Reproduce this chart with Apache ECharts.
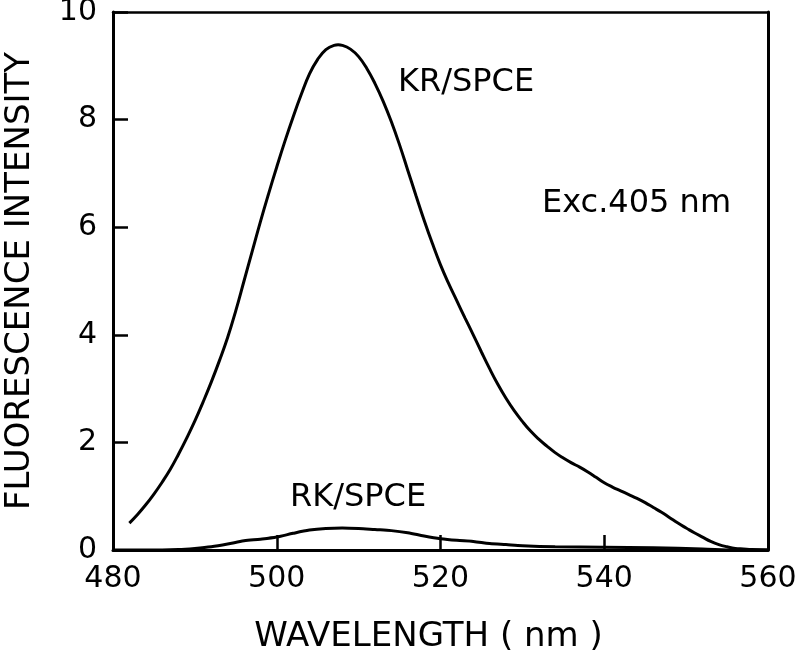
<!DOCTYPE html>
<html>
<head>
<meta charset="utf-8">
<script src="https://cdn.jsdelivr.net/npm/echarts@6/dist/echarts.min.js"></script>
<style>
html,body{margin:0;padding:0;background:#fff;}
#chart{width:800px;height:659px;}
</style>
</head>
<body>
<div id="chart"></div>
<script>
var xTicks = [480, 500, 520, 540, 560];
var yTicks = [0, 2, 4, 6, 8, 10];

var krWavelength = [482, 483, 484, 485, 486, 487, 488, 489, 490, 491, 492, 493, 494, 495, 496, 497, 498, 499, 500, 501, 502, 503, 504, 505, 506, 507, 507.5, 508, 509, 510, 511, 512, 513, 514, 515, 516, 517, 518, 519, 520, 521, 522, 523, 524, 525, 526, 527, 528, 529, 530, 531, 532, 533, 534, 535, 536, 537, 538, 539, 540, 541, 542, 543, 544, 545, 546, 547, 548, 549, 550, 551, 552, 553, 554, 555, 556, 557, 558, 560];
var krIntensity  = [0.5, 0.66, 0.84, 1.04, 1.26, 1.5, 1.78, 2.08, 2.4, 2.75, 3.12, 3.52, 3.95, 4.45, 5.0, 5.55, 6.1, 6.62, 7.12, 7.6, 8.05, 8.47, 8.85, 9.12, 9.3, 9.38, 9.39, 9.38, 9.31, 9.17, 8.95, 8.67, 8.34, 7.96, 7.53, 7.06, 6.59, 6.13, 5.7, 5.3, 4.95, 4.63, 4.31, 4.0, 3.68, 3.37, 3.08, 2.82, 2.59, 2.39, 2.21, 2.06, 1.93, 1.81, 1.71, 1.62, 1.54, 1.45, 1.35, 1.25, 1.17, 1.1, 1.03, 0.96, 0.88, 0.79, 0.7, 0.6, 0.5, 0.41, 0.32, 0.24, 0.16, 0.1, 0.06, 0.03, 0.02, 0.01, 0];

var rkWavelength = [480, 484, 488, 490, 492, 494, 496, 498, 500, 502, 504, 506, 508, 510, 512, 514, 516, 518, 520, 522, 524, 526, 528, 530, 534, 540, 546, 552, 556, 560];
var rkIntensity  = [0, 0, 0.01, 0.03, 0.06, 0.11, 0.17, 0.2, 0.24, 0.31, 0.37, 0.4, 0.41, 0.4, 0.38, 0.36, 0.32, 0.26, 0.21, 0.18, 0.16, 0.12, 0.1, 0.08, 0.06, 0.05, 0.04, 0.02, 0, 0];

var seriesNames = ['KR/SPCE', 'RK/SPCE'];
var xTitle = 'WAVELENGTH ( nm )';
var yTitle = 'FLUORESCENCE INTENSITY';
var noteText = 'Exc.405 nm';

function pairs(xs, ys) { return xs.map(function (x, i) { return [x, ys[i]]; }); }

var font = 'DejaVu Sans';
var chart = echarts.init(document.getElementById('chart'));
chart.setOption({
  animation: false,
  backgroundColor: '#fff',
  grid: { left: 113, right: 32, top: 12, bottom: 109, outerBoundsMode: 'none', containLabel: false },
  xAxis: [{
    type: 'value', min: xTicks[0], max: xTicks[xTicks.length - 1], interval: 20,
    name: xTitle, nameLocation: 'middle', nameGap: 70,
    nameTextStyle: { fontFamily: font, fontSize: 34, color: '#000', padding: [0, 24, 0, 0] },
    axisLine: { show: true, lineStyle: { color: '#000', width: 3 } },
    axisTick: { show: true, inside: true, length: 15, lineStyle: { color: '#000', width: 2.5 } },
    axisLabel: { fontFamily: font, fontSize: 30, color: '#000', margin: 14 },
    splitLine: { show: false }
  }, {
    type: 'value', position: 'top', min: xTicks[0], max: xTicks[xTicks.length - 1],
    axisLine: { show: true, onZero: false, lineStyle: { color: '#000', width: 2.5 } },
    axisTick: { show: false }, axisLabel: { show: false }, splitLine: { show: false }
  }],
  yAxis: [{
    type: 'value', min: yTicks[0], max: yTicks[yTicks.length - 1], interval: 2,
    name: yTitle, nameLocation: 'middle', nameGap: 76,
    nameTextStyle: { fontFamily: font, fontSize: 34, color: '#000' },
    axisLine: { show: true, lineStyle: { color: '#000', width: 3 } },
    axisTick: { show: true, inside: true, length: 15, lineStyle: { color: '#000', width: 2.5 } },
    axisLabel: { fontFamily: font, fontSize: 30, color: '#000', margin: 16 },
    splitLine: { show: false }
  }, {
    type: 'value', position: 'right', min: yTicks[0], max: yTicks[yTicks.length - 1],
    axisLine: { show: true, onZero: false, lineStyle: { color: '#000', width: 3 } },
    axisTick: { show: false }, axisLabel: { show: false }, splitLine: { show: false }
  }],
  series: [{
    name: seriesNames[0], type: 'line', smooth: 0.45, showSymbol: false, symbol: 'none',
    data: pairs(krWavelength, krIntensity),
    lineStyle: { color: '#000', width: 3 }
  }, {
    name: seriesNames[1], type: 'line', smooth: 0.3, showSymbol: false, symbol: 'none',
    data: pairs(rkWavelength, rkIntensity),
    lineStyle: { color: '#000', width: 3 }
  }],
  graphic: [
    { type: 'text', left: 398, top: 67, style: { text: seriesNames[0], font: '32px "DejaVu Sans"', fill: '#000' } },
    { type: 'text', left: 290, top: 482, style: { text: seriesNames[1], font: '32px "DejaVu Sans"', fill: '#000' } },
    { type: 'text', left: 542, top: 188, style: { text: noteText, font: '32px "DejaVu Sans"', fill: '#000' } }
  ]
});
</script>
</body>
</html>
